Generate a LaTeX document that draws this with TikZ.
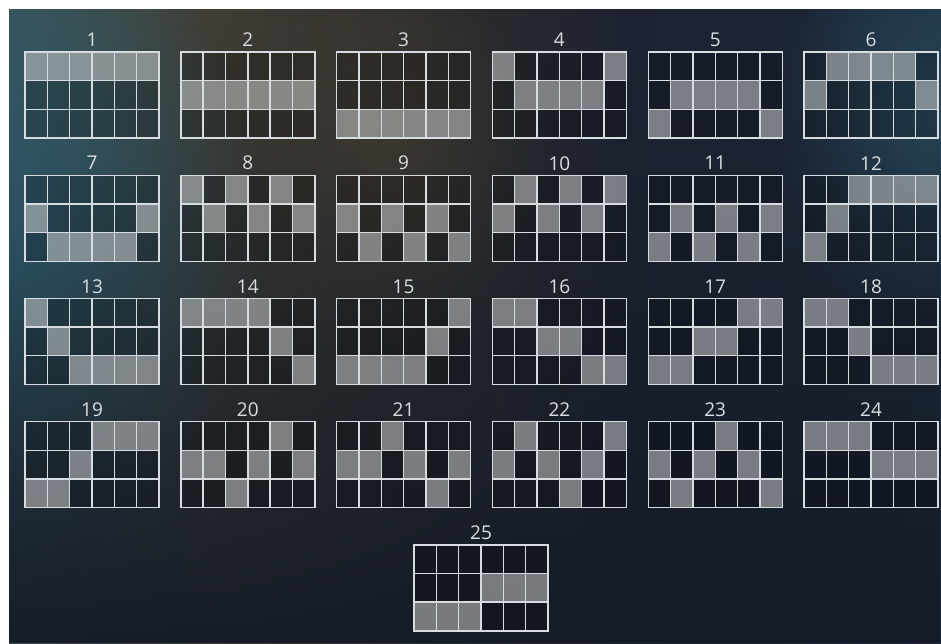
\documentclass[tikz,border=0pt]{standalone}
\usepackage{fontspec}
\setmainfont{Open Sans}
\usetikzlibrary{fadings}

\definecolor{bgnavy}{HTML}{141B27}
\definecolor{linegrey}{HTML}{D6DCDF}
\definecolor{labelgrey}{HTML}{DADEE1}
\definecolor{bgA}{HTML}{33768E}
\definecolor{bgB}{HTML}{2E6679}
\definecolor{bgC}{HTML}{384D53}
\definecolor{bgD}{HTML}{423E35}
\definecolor{bgE}{HTML}{2D2D2D}
\definecolor{bgF}{HTML}{1D2332}
\definecolor{bgG}{HTML}{1D2838}
\definecolor{bgH}{HTML}{254051}
\definecolor{bgI}{HTML}{305C70}
\definecolor{glowteal}{HTML}{357B93}
\definecolor{glowwarm}{HTML}{4E4535}
\pgfdeclarehorizontalshading{bgshade}{100bp}{%
  color(0bp)=(bgA); color(12bp)=(bgB); color(25bp)=(bgC);
  color(36bp)=(bgD); color(48bp)=(bgE); color(58bp)=(bgF);
  color(75bp)=(bgG); color(88bp)=(bgH); color(100bp)=(bgI)}
\tikzfading[name=fade down, top color=transparent!100, middle color=transparent!92,
  bottom color=transparent!5]
\tikzfading[name=soft glow, inner color=transparent!30, outer color=transparent!100]

\begin{document}
\begin{tikzpicture}[x=1pt, y=-1pt,
    cellon/.style={fill=white, fill opacity=0.43},
    celloff/.style={fill=black, fill opacity=0.18},
    gridline/.style={draw=linegrey, line width=1.4pt},
    linelabel/.style={text=labelgrey, font=\fontsize{19}{20}\selectfont, inner sep=0pt}]
  \useasboundingbox (0,0) rectangle (941,643);

  % backdrop
  \shade[shading=bgshade] (9,9) rectangle (941,643);
  \begin{scope}
    \clip (9,9) rectangle (941,643);
    \fill[glowteal, path fading=soft glow] (20,250) ellipse (250 and 340);
    \fill[glowwarm, path fading=soft glow] (390,170) ellipse (170 and 200);
    \fill[bgI, path fading=soft glow] (930,120) ellipse (150 and 220);
  \end{scope}
  \fill[bgnavy, path fading=fade down] (9,9) rectangle (941,643);

  % paylines: highlighted row (1 = top) for each of the 6 reels
  \foreach \num/\pat [count=\k from 0] in {
      1/{1,1,1,1,1,1}, 2/{2,2,2,2,2,2}, 3/{3,3,3,3,3,3},
      4/{1,2,2,2,2,1}, 5/{3,2,2,2,2,3}, 6/{2,1,1,1,1,2},
      7/{2,3,3,3,3,2}, 8/{1,2,1,2,1,2}, 9/{2,3,2,3,2,3},
      10/{2,1,2,1,2,1}, 11/{3,2,3,2,3,2}, 12/{3,2,1,1,1,1},
      13/{1,2,3,3,3,3}, 14/{1,1,1,1,2,3}, 15/{3,3,3,3,2,1},
      16/{1,1,2,2,3,3}, 17/{3,3,2,2,1,1}, 18/{1,1,2,3,3,3},
      19/{3,3,2,1,1,1}, 20/{2,2,3,2,1,2}, 21/{2,2,1,2,3,2},
      22/{2,1,2,3,2,1}, 23/{2,3,2,1,2,3}, 24/{1,1,1,2,2,2},
      25/{3,3,3,2,2,2}} {
    \pgfmathsetmacro\gx{ifthenelse(\k==24, 414, 25+155.8*mod(\k,6))}
    \pgfmathsetmacro\gy{52+123.2*floor(\k/6)}
    \node[linelabel] (lbl\num) at ({\gx+67},{\gy-12}) {\num};
    \fill[celloff] (\gx,\gy) rectangle ++(134,86);
    \foreach \r [count=\c from 0] in \pat
      \fill[cellon] ({\gx+\c*134/6},{\gy+(\r-1)*86/3}) rectangle ++(134/6,86/3);
    \foreach \c in {1,...,5}
      \draw[gridline] ({\gx+\c*134/6},\gy) -- ++(0,86);
    \foreach \r in {1,2}
      \draw[gridline] (\gx,{\gy+\r*86/3}) -- ++(134,0);
    \draw[gridline] (\gx,\gy) rectangle ++(134,86);
  }
\end{tikzpicture}
\end{document}
